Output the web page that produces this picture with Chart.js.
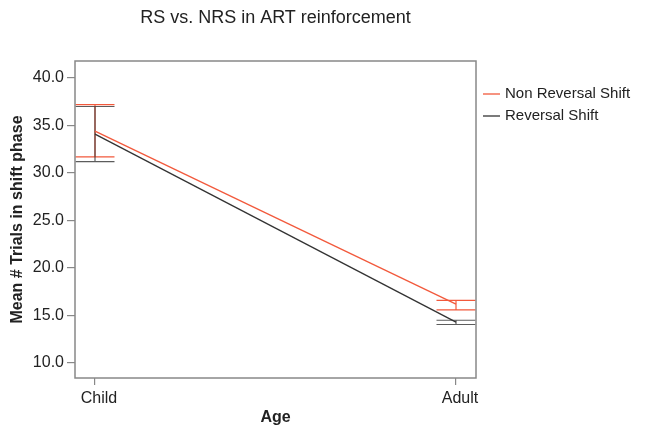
<!DOCTYPE html>
<html><head><meta charset="utf-8">
<script src="https://cdn.jsdelivr.net/npm/chart.js@4"></script>
<style>html,body{margin:0;padding:0;background:#fff}#wrap{width:654px;height:427px}</style>
</head><body><div id="wrap"><canvas id="c" width="654" height="427"></canvas></div>
<script>
const chartTitle = 'RS vs. NRS in ART reinforcement';
const categories = ['Child', 'Adult'];
const seriesNames = ['Non Reversal Shift', 'Reversal Shift'];
const nrsMean = [34.4, 16.2];
const nrsLow = [31.7, 15.6];
const nrsHigh = [37.2, 16.6];
const rsMean = [34.1, 14.3];
const rsLow = [31.2, 14.05];
const rsHigh = [37.0, 14.5];
const yTicks = [10, 15, 20, 25, 30, 35, 40];
const yTickLabels = ['10.0', '15.0', '20.0', '25.0', '30.0', '35.0', '40.0'];
const yTitle = 'Mean # Trials in shift phase';
const xTitle = 'Age';

const FONT = '"Liberation Sans", Arial, Helvetica, sans-serif';
const RED = '#f2593c';
const DARK = '#333333';
const AXIS = '#888888';
const TEXT = '#222222';

const series = [
  {name: seriesNames[0], mean: nrsMean, low: nrsLow, high: nrsHigh, color: RED},
  {name: seriesNames[1], mean: rsMean, low: rsLow, high: rsHigh, color: DARK}
];

const errorBars = {
  id: 'errorBars',
  beforeDatasetsDraw(chart) {
    const {ctx, scales: {x, y}} = chart;
    const half = 19.5;
    ctx.save();
    series.forEach((s, si) => {
      ctx.strokeStyle = s.color;
      ctx.lineWidth = 1.2;
      ctx.globalAlpha = si === 1 ? 0.8 : 1;
      categories.forEach((c, i) => {
        const px = x.getPixelForValue(i);
        const yl = y.getPixelForValue(s.low[i]);
        const yh = y.getPixelForValue(s.high[i]);
        ctx.beginPath();
        ctx.moveTo(px, yl); ctx.lineTo(px, yh);
        ctx.moveTo(px - half, yl); ctx.lineTo(px + half, yl);
        ctx.moveTo(px - half, yh); ctx.lineTo(px + half, yh);
        ctx.stroke();
      });
    });
    ctx.restore();
  }
};

const frame = {
  id: 'frame',
  afterDatasetsDraw(chart) {
    const {ctx, chartArea: a} = chart;
    ctx.save();
    ctx.strokeStyle = AXIS;
    ctx.lineWidth = 1.5;
    ctx.strokeRect(a.left, a.top, a.right - a.left, a.bottom - a.top);
    ctx.restore();
  }
};

const legendPlugin = {
  id: 'customLegend',
  afterDraw(chart) {
    const {ctx, chartArea: a} = chart;
    ctx.save();
    ctx.font = '15px ' + FONT;
    ctx.textBaseline = 'middle';
    ctx.textAlign = 'left';
    series.forEach((s, i) => {
      const yy = a.top + 33 + i * 22;
      ctx.strokeStyle = s.color;
      ctx.lineWidth = 1.3;
      ctx.beginPath();
      ctx.moveTo(a.right + 7, yy); ctx.lineTo(a.right + 24, yy);
      ctx.stroke();
      ctx.fillStyle = TEXT;
      ctx.fillText(s.name, a.right + 29, yy);
    });
    ctx.restore();
  }
};

new Chart(document.getElementById('c'), {
  type: 'line',
  data: {
    datasets: series.map(s => ({
      label: s.name,
      data: s.mean.map((v, i) => ({x: i, y: v})),
      borderColor: s.color,
      borderWidth: 1.3,
      pointRadius: 0,
      fill: false,
      tension: 0
    }))
  },
  options: {
    responsive: false,
    animation: false,
    devicePixelRatio: 1,
    layout: {padding: {left: 0, right: 178, top: 0, bottom: 0}},
    plugins: {
      legend: {display: false},
      tooltip: {enabled: false},
      title: {
        display: true, text: chartTitle, fullSize: false, color: TEXT,
        font: {family: FONT, size: 18, weight: 'normal'},
        padding: {top: 7, bottom: 32.4}
      }
    },
    scales: {
      x: {
        type: 'linear', min: -0.0554, max: 1.0554,
        afterBuildTicks: s => { s.ticks = categories.map((c, i) => ({value: i})); },
        afterFit: s => { s.height = 49; },
        ticks: {callback: v => categories[v], font: {family: FONT, size: 16}, color: TEXT, padding: 4, labelOffset: 4, maxRotation: 0, autoSkip: false},
        grid: {display: true, drawOnChartArea: false, drawTicks: true, tickLength: 7, color: AXIS, lineWidth: 1.2},
        border: {display: false},
        title: {display: true, text: xTitle, color: TEXT, font: {family: FONT, size: 16, weight: 'bold'}, padding: {top: 0, bottom: 0}}
      },
      y: {
        type: 'linear', min: 8.42, max: 41.79,
        afterBuildTicks: s => { s.ticks = yTicks.map(v => ({value: v})); },
        afterFit: s => { s.width = 75; },
        ticks: {callback: v => yTickLabels[yTicks.indexOf(v)], font: {family: FONT, size: 16}, color: TEXT, padding: 3, autoSkip: false},
        grid: {display: true, drawOnChartArea: false, drawTicks: true, tickLength: 8, color: AXIS, lineWidth: 1.2},
        border: {display: false},
        title: {display: true, text: yTitle, color: TEXT, font: {family: FONT, size: 16, weight: 'bold'}, padding: {top: 8, bottom: 0}}
      }
    }
  },
  plugins: [errorBars, frame, legendPlugin]
});
</script>
</body></html>
